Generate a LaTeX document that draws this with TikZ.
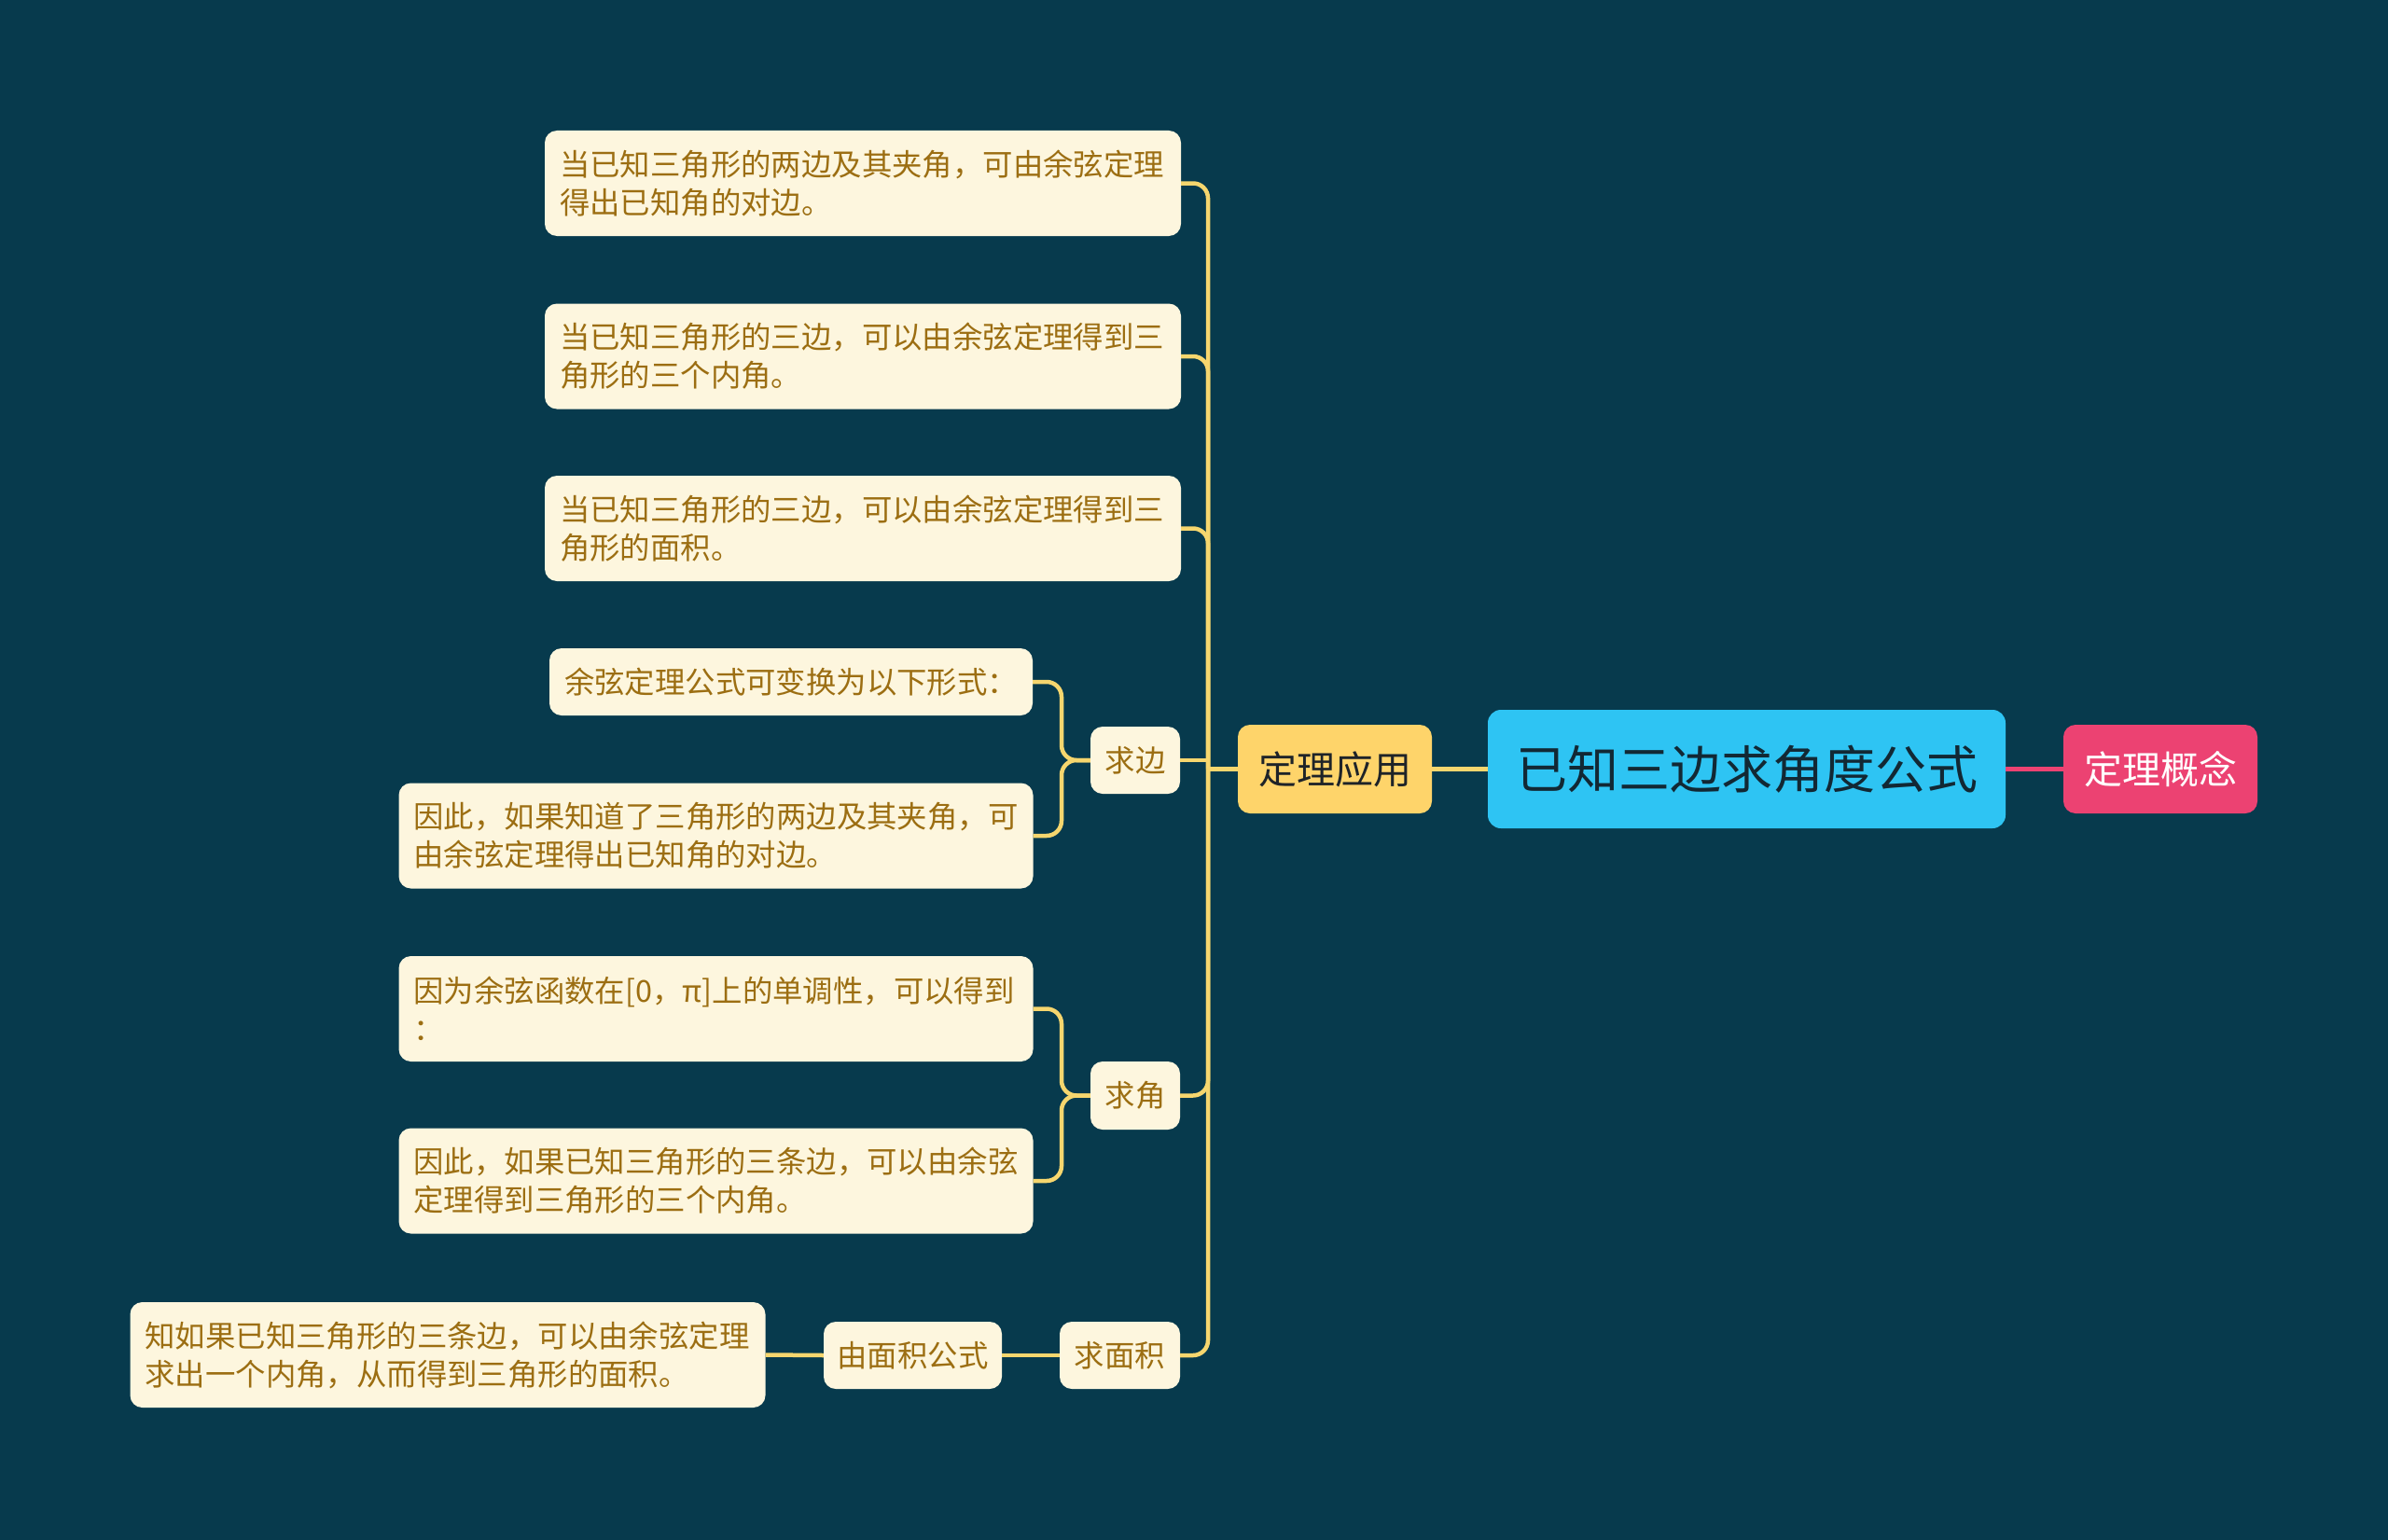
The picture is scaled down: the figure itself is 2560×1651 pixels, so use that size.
\documentclass[tikz,border=0pt]{standalone}
\usepackage{fontspec}
\setmainfont{Noto Sans CJK SC}
\usetikzlibrary{calc}
\definecolor{bg}{RGB}{7,58,77}
\definecolor{leaffill}{RGB}{253,246,222}
\definecolor{leaftext}{RGB}{156,110,18}
\definecolor{lineyel}{RGB}{246,214,110}
\definecolor{rootfill}{RGB}{46,196,243}
\definecolor{rootText}{RGB}{18,40,52}
\definecolor{appfill}{RGB}{254,212,106}
\definecolor{apptext}{RGB}{30,35,40}
\definecolor{conceptfill}{RGB}{236,66,114}
\begin{document}
\begin{tikzpicture}[x=1pt,y=-1pt,
  leaf/.style={draw=none,fill=leaffill,rounded corners=13pt,text=leaftext,
    font=\fontsize{32.4}{41}\selectfont,align=left,inner xsep=16pt,inner ysep=0pt,anchor=center},
  small/.style={draw=none,fill=leaffill,rounded corners=13pt,text=leaftext,
    font=\fontsize{32.4}{41}\selectfont,inner sep=0pt,anchor=center,minimum height=72pt},
  conn/.style={draw=lineyel,line width=4.5pt,rounded corners=16pt},
  pconn/.style={draw=conceptfill,line width=4.5pt}]
\fill[bg] (0,0) rectangle (2560,1651);
\useasboundingbox (0,0) rectangle (2560,1651);
% nodes
\node[leaf,text width=650pt,minimum height=113pt] (b1) at (925,196.5) {当已知三角形的两边及其夹角，可由余弦定理\\得出已知角的对边。};
\node[leaf,text width=650pt,minimum height=113pt] (b2) at (925,382) {当已知三角形的三边，可以由余弦定理得到三\\角形的三个内角。};
\node[leaf,text width=650pt,minimum height=113pt] (b3) at (925,566.5) {当已知三角形的三边，可以由余弦定理得到三\\角形的面积。};
\node[leaf,text width=486pt,minimum height=72pt] (b4) at (848,731) {余弦定理公式可变换为以下形式：};
\node[leaf,text width=648pt,minimum height=113pt] (b5) at (767.5,896) {因此，如果知道了三角形的两边及其夹角，可\\由余弦定理得出已知角的对边。};
\node[leaf,text width=648pt,minimum height=113pt] (b6) at (767.5,1081.5) {因为余弦函数在[0，π]上的单调性，可以得到\\：};
\node[leaf,text width=648pt,minimum height=113pt] (b7) at (767.5,1266) {因此，如果已知三角形的三条边，可以由余弦\\定理得到三角形的三个内角。};
\node[leaf,text width=649pt,minimum height=113pt] (b8) at (480,1452.5) {知如果已知三角形的三条边，可以由余弦定理\\求出一个内角，从而得到三角形的面积。};
\node[small,minimum width=96pt] (qb) at (1217,815) {求边};
\node[small,minimum width=96pt,minimum height=73pt] (qj) at (1217,1174.5) {求角};
\node[small,minimum width=129pt] (qm) at (1200.5,1453) {求面积};
\node[small,minimum width=191pt] (ym) at (978.5,1453) {由面积公式};
\node[fill=appfill,rounded corners=13pt,text=apptext,font=\fontsize{41}{41}\selectfont,
  inner sep=0pt,minimum width=208pt,minimum height=95pt] (app) at (1431,824.5) {定理应用};
\node[fill=rootfill,rounded corners=14pt,text=rootText,font=\fontsize{55}{55}\selectfont,
  inner sep=0pt,minimum width=555pt,minimum height=127pt] (root) at (1872.5,824.5) {已知三边求角度公式};
\node[fill=conceptfill,rounded corners=13pt,text=white,font=\fontsize{41}{41}\selectfont,
  inner sep=0pt,minimum width=208pt,minimum height=95pt] (concept) at (2316,824.5) {定理概念};
% trunks
\coordinate (t1) at (1295,824.5);
\coordinate (t2) at (1138,815);
\coordinate (t3) at (1138,1174.5);
% connectors
\draw[pconn] (root.east) -- (concept.west);
\draw[conn] (root.west) -- (app.east);
\draw[conn] (app.west) -- (t1);
\foreach \n in {b1,b2,b3,qj,qm}{
  \draw[conn] (t1) |- (\n.east);
}
\draw[conn] (qb.east) -- (qb.east -| t1);
\foreach \n in {b4,b5}{
  \draw[conn] (qb.west) -- (t2) |- (\n.east);
}
\foreach \n in {b6,b7}{
  \draw[conn] (qj.west) -- (t3) |- (\n.east);
}
\draw[conn] (qm.west) -- (ym.east);
\draw[conn] (ym.west) -- (b8.east);
\end{tikzpicture}
\end{document}
